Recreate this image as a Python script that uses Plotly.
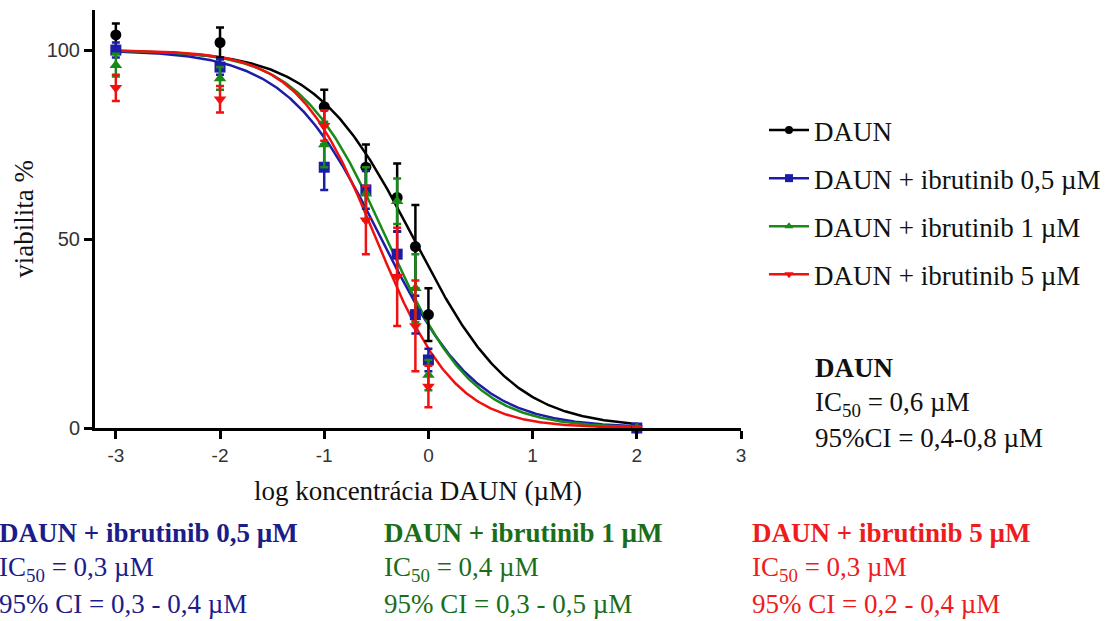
import numpy as np
import plotly.graph_objects as go

# ---- data ----
log_conc = [-3, -2, -1, -0.6, -0.3, -0.125, 0, 2]

daun_y = [104, 102, 85, 69, 61, 48, 30, 0]
daun_err = [3, 4, 4.5, 6, 9, 11, 7, 0]

ib05_y = [100, 95.5, 69, 63, 46, 30, 18, 0]
ib05_err = [2, 2, 6, 5, 6, 5, 3, 0]

ib1_y = [96, 92.5, 75, 62, 60, 37, 14, 0]
ib1_err = [3, 3, 6, 7, 6, 9, 4, 0]

ib5_y = [90, 87, 80, 55, 40, 27, 11, 0]
ib5_err = [3.5, 3.5, 4, 9, 13, 12, 5.5, 0]

# fitted curve parameters (log IC50, Hill slope)
fit_logic50 = {"DAUN": -0.14, "ib05": -0.45, "ib1": -0.40, "ib5": -0.50}
fit_hill = {"DAUN": 0.92, "ib05": 0.95, "ib1": 1.05, "ib5": 1.15}

names = {
    "DAUN": "DAUN",
    "ib05": "DAUN + ibrutinib 0,5 µM",
    "ib1": "DAUN + ibrutinib 1 µM",
    "ib5": "DAUN + ibrutinib 5 µM",
}
colors = {"DAUN": "#000000", "ib05": "#1c1ca8", "ib1": "#188a18", "ib5": "#f01010"}
symbols = {"DAUN": "circle", "ib05": "square", "ib1": "triangle-up", "ib5": "triangle-down"}
series = {
    "DAUN": (daun_y, daun_err),
    "ib05": (ib05_y, ib05_err),
    "ib1": (ib1_y, ib1_err),
    "ib5": (ib5_y, ib5_err),
}
keys = ["DAUN", "ib05", "ib1", "ib5"]

SERIF = "Liberation Serif, Times New Roman, serif"
SANS = "Liberation Sans, Arial, sans-serif"
FS = 27

fig = go.Figure()
xfit = np.linspace(-3, 2, 400)
for key in keys:
    c = fit_logic50[key]
    h = fit_hill[key]
    yfit = 100 / (1 + 10 ** ((xfit - c) * h))
    fig.add_trace(go.Scatter(
        x=xfit, y=yfit, mode="lines", line=dict(color=colors[key], width=2.5),
        showlegend=False, hoverinfo="skip", cliponaxis=False))

for key in keys:
    yv, ev = series[key]
    fig.add_trace(go.Scatter(
        x=log_conc, y=yv, mode="markers", name=names[key],
        legendgroup=key, showlegend=False,
        marker=dict(symbol=symbols[key], color=colors[key], size=11),
        error_y=dict(type="data", array=ev, color=colors[key], thickness=2.5, width=4),
        cliponaxis=False))

for key in keys:
    fig.add_trace(go.Scatter(
        x=[None], y=[None], mode="lines+markers", name=names[key], legendgroup=key,
        line=dict(color=colors[key], width=2.5),
        marker=dict(symbol=symbols[key], color=colors[key], size=8)))

L, R, T, B = 95, 375, 10, 193
W, H = 1116, 621
pw, ph = W - L - R, H - T - B


def px(xp):
    return (xp - L) / pw


def py(yp):
    return (H - B - yp) / ph


fig.update_layout(
    width=W, height=H,
    margin=dict(l=L, r=R, t=T, b=B),
    paper_bgcolor="white", plot_bgcolor="white",
    xaxis=dict(range=[-3.2, 3.0], tickvals=[-3, -2, -1, 0, 1, 2, 3],
               ticktext=["-3", "-2", "-1", "0", "1", "2", "3"],
               showgrid=False, zeroline=False, showline=True, linecolor="black", linewidth=3,
               ticks="outside", ticklen=8, tickwidth=3, tickcolor="black",
               tickfont=dict(family=SANS, size=19, color="#333"),
               title=dict(text="log koncentrácia DAUN (µM)", font=dict(family=SERIF, size=FS, color="#111"),
                          standoff=17)),
    yaxis=dict(range=[0, 110.6], tickvals=[0, 50, 100],
               showgrid=False, zeroline=False, showline=True, linecolor="black", linewidth=3,
               ticks="outside", ticklen=8, tickwidth=3, tickcolor="black",
               tickfont=dict(family=SANS, size=20, color="#333"),
               title=dict(text="viabilita %", font=dict(family=SERIF, size=FS, color="#111"),
                          standoff=6)),
    legend=dict(x=px(764), y=py(106), xanchor="left", yanchor="top",
                font=dict(family=SERIF, size=FS, color="#111"),
                tracegroupgap=10, itemwidth=40, bgcolor="rgba(0,0,0,0)"),
    showlegend=True,
)

ann = []


def add_text(text, xp, yp, color, bold=False):
    t = f"<b>{text}</b>" if bold else text
    ann.append(dict(text=t, x=px(xp), y=py(yp), xref="paper", yref="paper",
                    xanchor="left", yanchor="middle", showarrow=False,
                    font=dict(family=SERIF, size=FS, color=color)))


add_text("DAUN", 813, 368, "#111", bold=True)
add_text("IC<sub>50</sub> = 0,6 µM", 813, 404, "#111")
add_text("95%CI = 0,4-0,8 µM", 813, 438, "#111")

navy = "#1c1c8a"
add_text("DAUN + ibrutinib 0,5 µM", -3, 533, navy, bold=True)
add_text("IC<sub>50</sub> = 0,3 µM", -3, 569, navy)
add_text("95% CI = 0,3 - 0,4 µM", -3, 604, navy)

dgreen = "#1a6e1a"
add_text("DAUN + ibrutinib 1 µM", 382, 533, dgreen, bold=True)
add_text("IC<sub>50</sub> = 0,4 µM", 382, 569, dgreen)
add_text("95% CI = 0,3 - 0,5 µM", 382, 604, dgreen)

red = "#ee1c1c"
add_text("DAUN + ibrutinib 5 µM", 750, 533, red, bold=True)
add_text("IC<sub>50</sub> = 0,3 µM", 750, 569, red)
add_text("95% CI = 0,2 - 0,4 µM", 750, 604, red)

fig.update_layout(annotations=ann)
fig.write_html("out.html", config={"displayModeBar": False},
               post_script="document.body.style.margin='0';document.body.style.overflow='hidden';")
